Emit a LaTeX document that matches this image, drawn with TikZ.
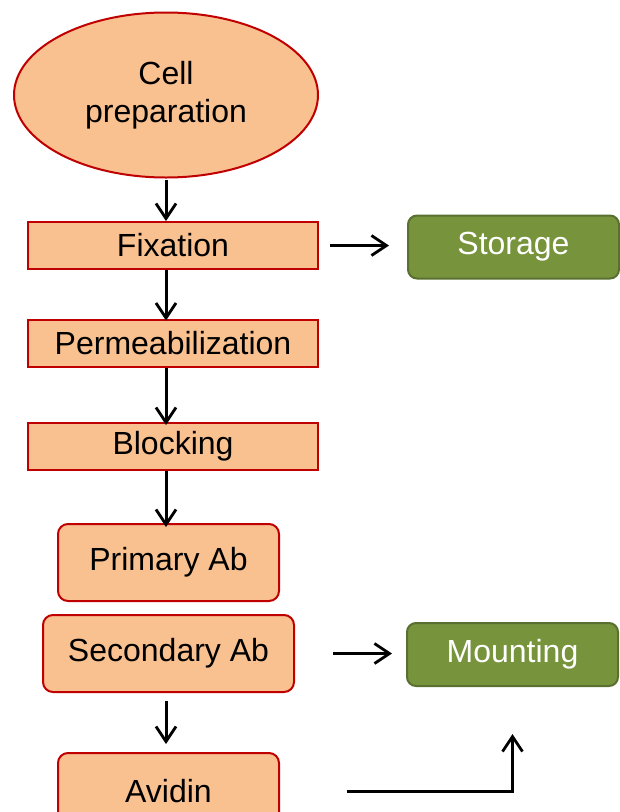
\documentclass[tikz,border=0pt]{standalone}
\usepackage{fontspec}
\setmainfont{Liberation Sans}
\usetikzlibrary{shapes.geometric,arrows.meta}
\definecolor{orfill}{HTML}{F9C090}
\definecolor{orline}{HTML}{C00000}
\definecolor{grfill}{HTML}{77933C}
\definecolor{grline}{HTML}{5A7030}
\tikzset{
  lbl/.style={font=\fontsize{32}{38}\selectfont, text=black, inner sep=0pt},
  oval/.style={lbl, ellipse, draw=orline, fill=orfill, line width=2pt, align=center},
  sqbox/.style={lbl, rectangle, draw=orline, fill=orfill, line width=2pt, minimum width=290pt, minimum height=47pt},
  rbox/.style={lbl, rectangle, rounded corners=10pt, draw=orline, fill=orfill, line width=2pt, minimum height=77pt},
  gbox/.style={lbl, rectangle, rounded corners=9pt, draw=grline, fill=grfill, line width=2pt, text=white, minimum width=211pt, minimum height=63pt},
  flow/.style={line width=3pt, -{Straight Barb[length=15pt,width=20pt,line width=2.8pt]}}
}
\begin{document}
\begin{tikzpicture}[x=1pt,y=-1pt]
\useasboundingbox (0,0) rectangle (620,812);
\clip (0,0) rectangle (620,812);
\node[oval, minimum width=304pt, minimum height=165pt] (cell) at (166,95) {Cell\\preparation};
\node[sqbox] (fix) at (173,245.5) {Fixation};
\node[sqbox] (perm) at (173,343) {Permeabilization};
\node[sqbox] (block) at (173,446.5) {Blocking};
\node[rbox, minimum width=221pt] (prim) at (168.5,562.5) {Primary Ab};
\node[rbox, minimum width=251pt] (sec) at (168.5,653.5) {Secondary Ab};
\node[rbox, minimum width=221pt] (avi) at (168.5,791.5) {Avidin};
\node[gbox] (stor) at (513.5,247) {Storage};
\node[gbox] (mount) at (512.5,654.5) {Mounting};
\draw[flow, shorten <=1pt] (cell.south -| 166,0) -- (fix.north -| 166,0);
\draw[flow] (fix.south -| 166,0) -- ([yshift=-2pt]perm.north -| 166,0);
\draw[flow] (perm.south -| 166,0) -- ([yshift=-3pt]block.north -| 166,0);
\draw[flow] (block.south -| 166,0) -- ([yshift=-4pt]prim.north -| 166,0);
\draw[flow, shorten <=8pt, shorten >=8pt] (sec.south -| 166,0) -- (avi.north -| 166,0);
\draw[flow, shorten <=11pt, shorten >=18pt] (fix.east) -- (stor.west |- fix.east);
\draw[flow, shorten <=38pt, shorten >=14pt] (sec.east) -- (mount.west |- sec.east);
\coordinate (elbowstart) at ([xshift=67pt]avi.east);
\coordinate (elbowend) at ([yshift=-47pt]mount.south);
\draw[flow] (elbowstart) -| (elbowend);
\end{tikzpicture}
\end{document}
